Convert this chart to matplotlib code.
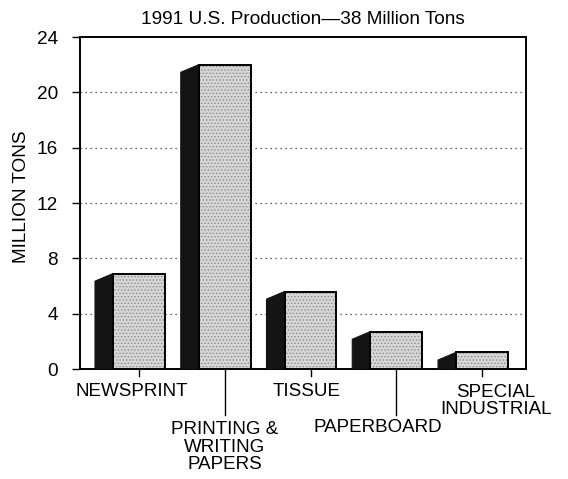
import matplotlib
matplotlib.use("Agg")
import matplotlib.pyplot as plt
from matplotlib.patches import Polygon

plt.rcParams['font.family'] = ['Liberation Sans', 'DejaVu Sans']
plt.rcParams['hatch.linewidth'] = 0.6

categories = ["NEWSPRINT", "PRINTING &\nWRITING\nPAPERS", "TISSUE", "PAPERBOARD", "SPECIAL\nINDUSTRIAL"]
values = [6.9, 22.0, 5.6, 2.7, 1.2]
yticks = [0, 4, 8, 12, 16, 20, 24]
title = "1991 U.S. Production\u201438 Million Tons"
ylabel = "MILLION TONS"

W, H = 568, 479
fig = plt.figure(figsize=(W / 100, H / 100), dpi=100)
ax = fig.add_axes([80 / W, 1 - 369 / H, (526 - 80) / W, (369 - 37) / H])

ax.set_xlim(-0.688, 4.513)
ax.set_ylim(0, 24)

half = 0.303
side = 0.21
drop = 0.55
x = list(range(len(values)))

# front faces (stipple)
ax.bar(x, values, width=2 * half, color='#d6d6d6', edgecolor='#8a8a8a',
       hatch='.....', linewidth=0, zorder=3)
ax.bar(x, values, width=2 * half, fill=False, edgecolor='black',
       linewidth=1.4, zorder=4)
# dark side faces
for xi, v in zip(x, values):
    left = xi - half - side
    right = xi - half
    poly = Polygon([(left, 0), (left, max(v - drop, 0)), (right, v), (right, 0)],
                   closed=True, facecolor='#141414', edgecolor='#141414',
                   linewidth=0.8, zorder=3)
    ax.add_patch(poly)

# grid
for yv in yticks[1:-1]:
    ax.axhline(yv, color='#333333', linestyle=(0, (1, 3)), linewidth=0.9, zorder=1)

for s in ax.spines.values():
    s.set_linewidth(1.4)
    s.set_color('black')

ax.set_yticks(yticks)
ax.set_yticklabels([str(t) for t in yticks], fontsize=13.7)
ax.tick_params(axis='y', direction='out', length=6, width=1.0, pad=10)
ax.set_xticks([])

ax.set_ylabel(ylabel, fontsize=13.7)
ax.yaxis.set_label_coords(-(80 - 30) / 446, (369 - 197) / 332)
ax.set_title(title, fontsize=13.7, pad=9)

# category ticks and labels
trans = ax.get_xaxis_transform()
tick_len = [7, 46, 7, 46, 7]
label_dx = [-7, 0, -4, -18, 14]
label_y = [392, 447, 392, 428, 401]
px_per_unit = 85.75
for xi, cat, tl, dx, ly in zip(x, categories, tick_len, label_dx, label_y):
    ax.plot([xi, xi], [0, -tl / 332], color='black', linewidth=1.0,
            transform=trans, clip_on=False)
    ax.text(xi + dx / px_per_unit, -(ly - 369) / 332, cat, transform=trans,
            ha='center', va='center', fontsize=13.5, linespacing=1.06,
            multialignment='center')

fig.savefig("out.png", dpi=100)
